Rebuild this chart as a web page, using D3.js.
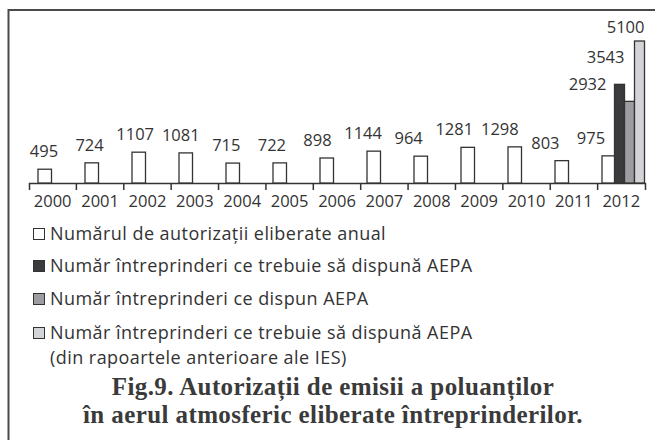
<!DOCTYPE html>
<html>
<head>
    <meta charset="utf-8">
    <title>Fig.9</title>
    <style>
        html, body {
            margin: 0;
            padding: 0;
            background-color: #ffffff;
            overflow: hidden;
        }
        svg {
            display: block;
            font-family: "Open Sans", sans-serif;
        }
    </style>
</head>
<body>
    <div id="container"></div>

    <script src="https://cdn.jsdelivr.net/npm/d3@7"></script>
    <script>
        // data
        var years = ["2000", "2001", "2002", "2003", "2004", "2005", "2006",
            "2007", "2008", "2009", "2010", "2011", "2012"];
        var permitsPerYear = [495, 724, 1107, 1081, 715, 722, 898, 1144, 964, 1281, 1298, 803, 975];

        // extra bars of 2012
        var extraNames = ["trebuie", "dispun", "anterioare"];
        var extraValues = [3543, 2932, 5100];

        var legendLabels = [
            ["Numărul de autorizații eliberate anual"],
            ["Număr întreprinderi ce trebuie să dispună AEPA"],
            ["Număr întreprinderi ce dispun AEPA"],
            ["Număr întreprinderi ce trebuie să dispună AEPA", "(din rapoartele anterioare ale IES)"]
        ];
        var titleLines = [
            "Fig.9. Autorizații de emisii a poluanților",
            "în aerul atmosferic eliberate întreprinderilor."
        ];

        var width = 655, height = 440;
        var ink = "#333333";
        var fills = ["#ffffff", "#3b3b3d", "#9d9da1", "#d3d4d8"];
        var axisY = 183;

        var svg = d3.select("#container").append("svg")
            .attr("width", width)
            .attr("height", height);

        svg.append("rect")
            .attr("width", width)
            .attr("height", height)
            .style("fill", "#ffffff");

        // frame (only left and top edges are inside the picture)
        svg.append("path")
            .attr("d", "M8.5," + height + "V10H" + width)
            .style("fill", "none")
            .style("stroke", "#4a4a4a")
            .style("stroke-width", 2);

        // scales
        var y = d3.scaleLinear().domain([0, 5100]).range([axisY, 41]);
        var xBar = d3.scaleBand().domain(years).range([29, 640]);
        var xAxis = d3.scaleBand().domain(years).range([29, 645]);
        var xLabel = d3.scalePoint().domain(years).range([44, 591]);
        var barOffset = 9, barWidth = 13.5;

        var lastYear = years[years.length - 1];
        var xExtra = d3.scaleBand().domain(extraNames)
            .range([xBar(lastYear) + barOffset + barWidth - 1, 644.5]);

        // axis: labels centred between ticks
        var axis = svg.append("g")
            .attr("transform", "translate(0," + axisY + ")")
            .call(d3.axisBottom(xAxis).tickSizeInner(0).tickSizeOuter(7).tickPadding(12));
        axis.select(".domain")
            .style("stroke", ink)
            .style("stroke-width", 1.5);
        axis.selectAll("text")
            .style("font-family", "'Open Sans', sans-serif")
            .style("font-size", "16.5px")
            .style("fill", ink);

        // tick marks on band boundaries
        axis.selectAll(".boundary")
            .data(years.slice(1))
            .enter().append("line")
            .attr("class", "boundary")
            .attr("x1", function (d) { return xAxis(d); })
            .attr("x2", function (d) { return xAxis(d); })
            .attr("y1", 0)
            .attr("y2", 7)
            .style("stroke", ink)
            .style("stroke-width", 1.5);

        // yearly bars
        var yearly = years.map(function (d, i) { return { year: d, value: permitsPerYear[i] }; });

        svg.selectAll(".bar")
            .data(yearly)
            .enter().append("rect")
            .attr("class", "bar")
            .attr("x", function (d) { return xBar(d.year) + barOffset; })
            .attr("y", function (d) { return y(d.value); })
            .attr("width", barWidth)
            .attr("height", function (d) { return axisY - y(d.value); })
            .style("fill", fills[0])
            .style("stroke", ink)
            .style("stroke-width", 1.3);

        svg.selectAll(".value")
            .data(yearly)
            .enter().append("text")
            .attr("class", "value")
            .attr("x", function (d) { return xLabel(d.year); })
            .attr("y", function (d) { return y(d.value) - 12; })
            .attr("text-anchor", "middle")
            .style("font-size", "16.5px")
            .style("fill", ink)
            .text(function (d) { return d.value; });

        // 2012 extra bars
        var extra = extraNames.map(function (d, i) { return { name: d, value: extraValues[i], fill: fills[i + 1] }; });

        svg.selectAll(".extra")
            .data(extra)
            .enter().append("rect")
            .attr("class", "extra")
            .attr("x", function (d) { return xExtra(d.name); })
            .attr("y", function (d) { return y(d.value); })
            .attr("width", xExtra.bandwidth())
            .attr("height", function (d) { return axisY - y(d.value); })
            .style("fill", function (d) { return d.fill; })
            .style("stroke", ink)
            .style("stroke-width", 1.3);

        // labels are staggered so they do not collide
        var extraShift = { trebuie: [0, -21], dispun: [-28, -11], anterioare: [0, -8] };
        svg.selectAll(".extra-value")
            .data(extra)
            .enter().append("text")
            .attr("class", "extra-value")
            .attr("x", function (d) { return xExtra(d.name) + xExtra.bandwidth() + extraShift[d.name][0]; })
            .attr("y", function (d) { return y(d.value) + extraShift[d.name][1]; })
            .attr("text-anchor", "end")
            .style("font-size", "16.5px")
            .style("fill", ink)
            .text(function (d) { return d.value; });

        // legend
        var legendTop = [240, 272, 305, 339];
        var legend = svg.selectAll(".legend")
            .data(legendLabels)
            .enter().append("g")
            .attr("class", "legend")
            .attr("transform", function (d, i) { return "translate(0," + legendTop[i] + ")"; });

        legend.append("rect")
            .attr("x", 33.5)
            .attr("y", -11.5)
            .attr("width", 11)
            .attr("height", 11)
            .style("fill", function (d, i) { return fills[i]; })
            .style("stroke", ink)
            .style("stroke-width", 1);

        legend.append("text")
            .attr("x", 50)
            .style("font-size", "18px")
            .style("letter-spacing", "0.45px")
            .style("fill", ink)
            .selectAll("tspan")
            .data(function (d) { return d; })
            .enter().append("tspan")
            .attr("x", 50)
            .attr("dy", function (d, i) { return i ? 24.5 : 0; })
            .text(function (d) { return d; });

        // caption
        svg.append("text")
            .attr("x", 333)
            .attr("text-anchor", "middle")
            .style("font-family", "'Liberation Serif', serif")
            .style("font-weight", "bold")
            .style("font-size", "25px")
            .style("letter-spacing", "0.4px")
            .style("fill", "#3a3a3a")
            .selectAll("tspan")
            .data(titleLines)
            .enter().append("tspan")
            .attr("x", 333)
            .attr("y", function (d, i) { return 395 + i * 28; })
            .text(function (d) { return d; });
    </script>
</body>
</html>
